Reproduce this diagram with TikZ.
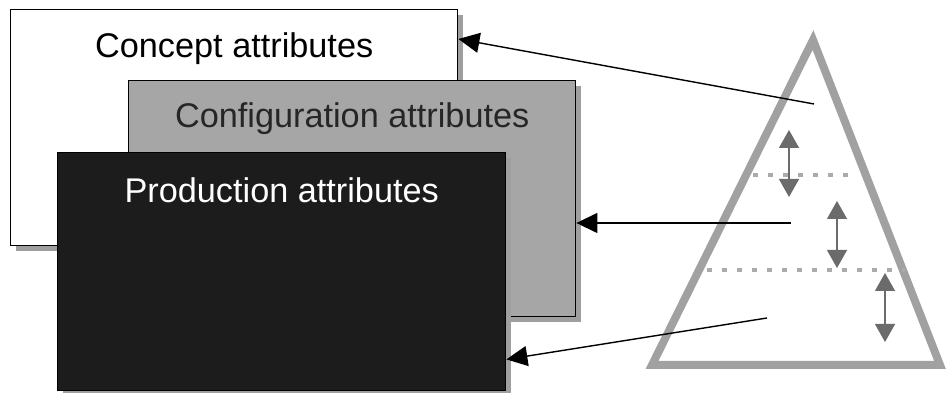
\documentclass[tikz,border=0pt]{standalone}
\usepackage{fontspec}
\setmainfont{Liberation Sans}
\usetikzlibrary{arrows.meta,shadows,positioning}

\begin{document}
\begin{tikzpicture}[>={Triangle[length=0.42cm,width=0.4cm]},
  box/.style={rectangle,draw=black,line width=0.8pt,anchor=north west,minimum width=8.94cm,minimum height=4.72cm,drop shadow={shadow xshift=0.1cm,shadow yshift=-0.1cm,shadow scale=1,fill=gray!75,opacity=1}},
  title/.style={font=\fontsize{19.5}{23}\selectfont,inner sep=0pt},
  link/.style={->,line width=0.8pt},
  pyramid/.style={draw=black!37,line width=0.16cm},
  level/.style={black!33,line width=0.09cm,dash pattern=on 0.09cm off 0.21cm},
  levelshift/.style={{Triangle[length=0.36cm,width=0.4cm]}-{Triangle[length=0.36cm,width=0.4cm]},draw=black!58,line width=0.8pt}]

            \useasboundingbox (0,0) rectangle (19,7.86);

            \node[box, fill=white] (concept) at (0.2,7.68) {};
            \node[title] (concepttxt) [below=0.46cm of concept.north] {Concept attributes};

            \node[box, fill=black!35] (config) at (2.56,6.26) {};
            \node[title, text=black!85] (configtxt) [below=0.44cm of config.north] {Configuration attributes};

            \node[box, fill=black!89, minimum width=8.96cm, minimum height=4.76cm] (prod) at (1.14,4.82) {};
            \node[title, text=white] (prodtxt) [below=0.5cm of prod.north] {Production attributes};

            \coordinate (apex) at (16.26,7.06);
            \coordinate (baseL) at (13.04,0.56);
            \coordinate (baseR) at (18.8,0.56);
            \draw[pyramid] (apex) -- (baseL) -- (baseR) -- cycle;

            \coordinate (lvl1a) at (15.06,4.36);
            \coordinate (lvl1b) at (17.1,4.36);
            \coordinate (lvl2a) at (14.14,2.46);
            \coordinate (lvl2b) at (18.1,2.46);
            \draw[level] (lvl1a) -- (lvl1b);
            \draw[level] (lvl2a) -- (lvl2b);

            \coordinate (s1a) at (15.78,5.26);
            \coordinate (s1b) at (15.78,3.92);
            \coordinate (s2a) at (16.74,3.84);
            \coordinate (s2b) at (16.74,2.5);
            \coordinate (s3a) at (17.7,2.4);
            \coordinate (s3b) at (17.7,1.02);
            \draw[levelshift] (s1a) -- (s1b);
            \draw[levelshift] (s2a) -- (s2b);
            \draw[levelshift] (s3a) -- (s3b);

            \coordinate (zone1) at (16.28,5.78);
            \coordinate (zone2) at (15.82,3.4);
            \coordinate (zone3) at (15.34,1.5);
            \draw[link] (zone1) to ([yshift=-0.6cm]concept.north east);
            \draw[link] (zone2) to (zone2 -| config.east);
            \draw[link] (zone3) to ([yshift=0.64cm]prod.south east);

            ;
        \end{tikzpicture}
\end{document}
